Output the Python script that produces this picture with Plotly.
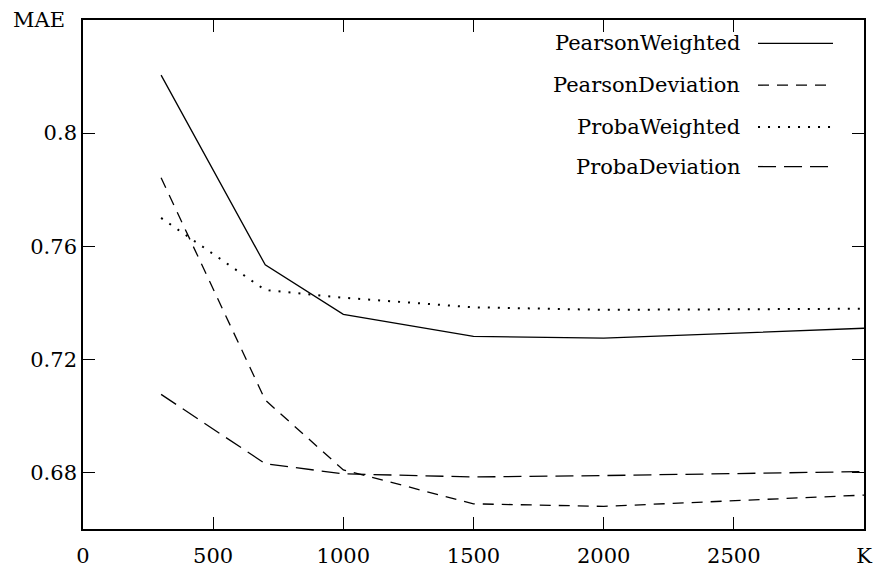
import plotly.graph_objects as go

K = [300, 700, 1000, 1500, 2000, 3000]
pearson_weighted = [0.8205, 0.7534, 0.7359, 0.7281, 0.7275, 0.7310]
pearson_deviation = [0.7842, 0.7056, 0.6809, 0.6689, 0.6680, 0.6720]
proba_weighted = [0.7700, 0.7445, 0.7418, 0.7384, 0.7375, 0.7379]
proba_deviation = [0.7076, 0.6831, 0.6795, 0.6784, 0.6789, 0.6803]

series_names = ["PearsonWeighted", "PearsonDeviation", "ProbaWeighted", "ProbaDeviation"]
series_values = [pearson_weighted, pearson_deviation, proba_weighted, proba_deviation]
dashes = ["solid", "11px,8px", "2px,8px", "18px,8px"]
widths = [1.3, 1.3, 2.0, 1.3]

x_tickvals = [0, 500, 1000, 1500, 2000, 2500, 3000]
x_ticktext = ["0", "500", "1000", "1500", "2000", "2500", "K"]
y_tickvals = [0.68, 0.72, 0.76, 0.80]
y_ticktext = ["0.68", "0.72", "0.76", "0.8"]

FONT = "DejaVu Serif"
FS = 21
fig = go.Figure()
for name, vals, d, w in zip(series_names, series_values, dashes, widths):
    fig.add_trace(go.Scatter(x=K, y=vals, mode="lines", name=name,
                             line=dict(color="black", width=w, dash=d),
                             showlegend=False))

# gnuplot-style legend: right-aligned text, sample line to the right
leg_y = [0.954, 0.872, 0.790, 0.712]
for name, d, w, yy in zip(series_names, dashes, widths, leg_y):
    fig.add_annotation(x=0.8438, y=yy, xref="paper", yref="paper", text=name,
                       showarrow=False, xanchor="right", yanchor="middle",
                       font=dict(family=FONT, size=FS, color="black"))
    fig.add_shape(type="line", xref="paper", yref="paper", x0=0.8643, x1=0.9603,
                  y0=yy, y1=yy, line=dict(color="black", width=w, dash=d))

fig.add_annotation(x=-0.0563, y=1.0, xref="paper", yref="paper", text="MAE",
                   showarrow=False, xanchor="center", yanchor="middle",
                   font=dict(family=FONT, size=FS, color="black"))

axis_common = dict(showgrid=False, zeroline=False, showline=True, linecolor="black",
                   linewidth=1.6, mirror="allticks", ticks="inside", ticklen=12,
                   tickwidth=1.3, tickcolor="black", automargin=False,
                   tickfont=dict(family=FONT, size=FS, color="black"))
fig.update_xaxes(range=[0, 3000], tickmode="array", tickvals=x_tickvals,
                 ticktext=x_ticktext, ticklabelstandoff=7, **axis_common)
fig.update_yaxes(range=[0.66, 0.84], tickmode="array", tickvals=y_tickvals,
                 ticktext=y_ticktext, **axis_common)

fig.update_layout(width=884, height=570, margin=dict(l=83, r=20, t=20, b=41),
                  plot_bgcolor="white", paper_bgcolor="white",
                  font=dict(family=FONT, size=FS, color="black"))
fig.write_html("out.html")
